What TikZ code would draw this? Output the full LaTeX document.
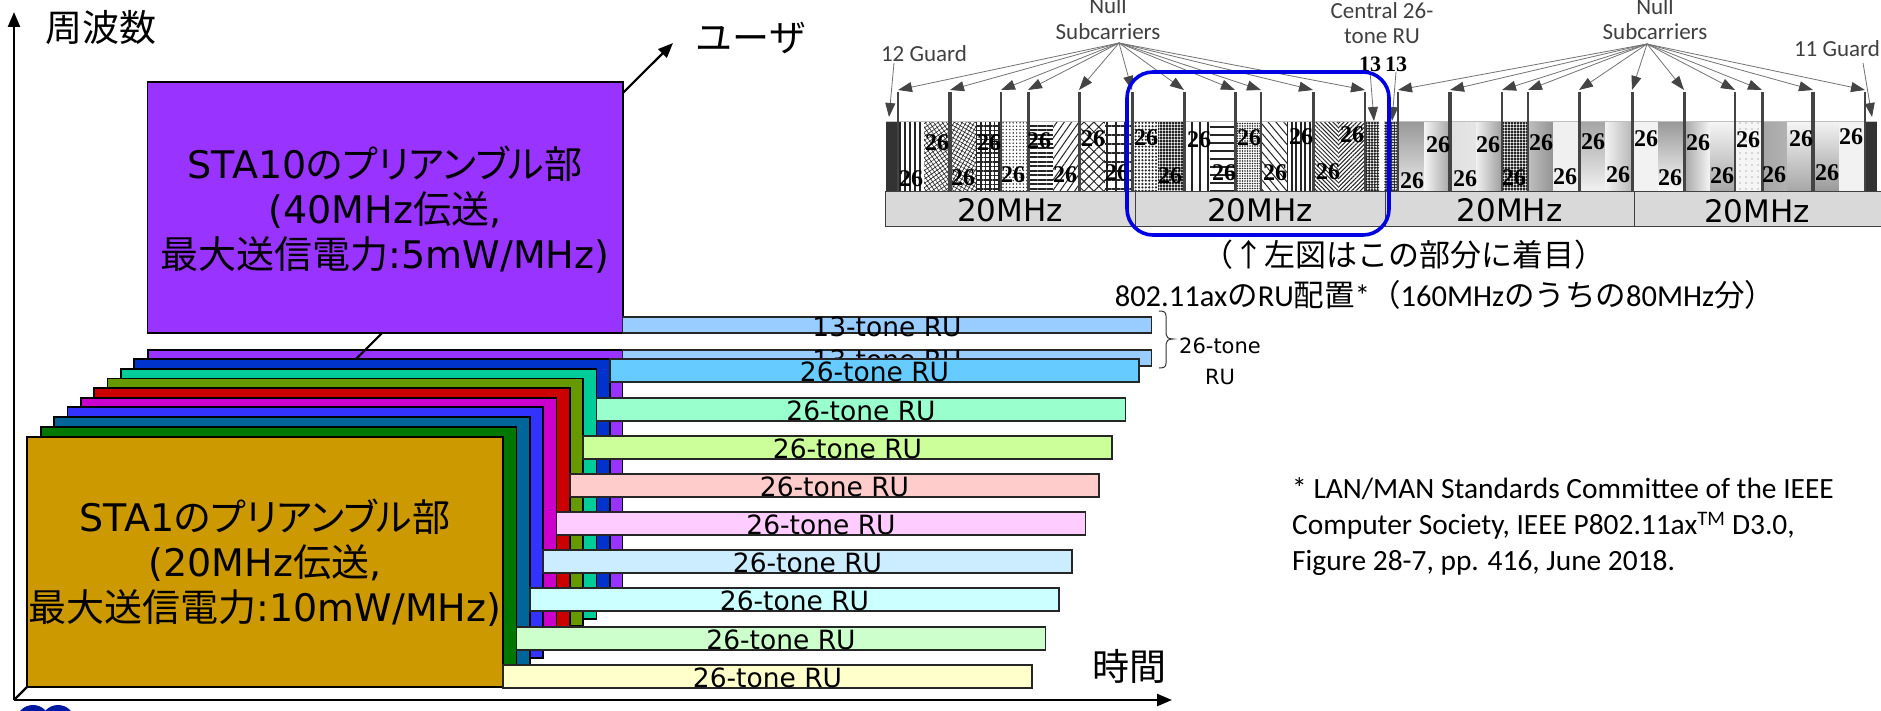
\documentclass[tikz,border=0pt]{standalone}
\usepackage{fontspec}
\setmainfont{DejaVu Sans}
\newfontfamily\jp{Noto Sans CJK JP}
\newfontfamily\jpp[RawFeature=+palt]{Noto Sans CJK JP}
\newfontfamily\carl{Carlito}
\newfontfamily\rs{Liberation Serif}
\usetikzlibrary{arrows.meta,patterns.meta}
\newcommand\jt[1]{{\jp #1}}
\newcommand\jk[1]{{\jpp #1}}
\newcommand\fsz[1]{\fontsize{#1}{#1}\selectfont}
\definecolor{gold}{HTML}{CC9900}
\definecolor{cA}{HTML}{007700}
\definecolor{cB}{HTML}{006699}
\definecolor{cC}{HTML}{3333FF}
\definecolor{cD}{HTML}{CC00CC}
\definecolor{cE}{HTML}{CC0000}
\definecolor{cF}{HTML}{669900}
\definecolor{cG}{HTML}{00CC99}
\definecolor{cH}{HTML}{0033CC}
\definecolor{cI}{HTML}{9933FF}
\definecolor{bA}{HTML}{FFFFCC}
\definecolor{bB}{HTML}{CCFFCC}
\definecolor{bC}{HTML}{CCFFFF}
\definecolor{bD}{HTML}{CCECFF}
\definecolor{bE}{HTML}{FFCCFF}
\definecolor{bF}{HTML}{FFCCCC}
\definecolor{bG}{HTML}{CCFF99}
\definecolor{bH}{HTML}{99FFCC}
\definecolor{bI}{HTML}{66CCFF}
\definecolor{bJ}{HTML}{99CCFF}
\definecolor{stemc}{HTML}{444444}
\definecolor{guardc}{HTML}{333333}
\definecolor{labc}{HTML}{404040}
\definecolor{barg}{HTML}{D9D9D9}
\tikzset{
  layerbox/.style={draw=black,line width=1.5pt,anchor=north west,inner sep=0pt,outer sep=0pt},
  rubar/.style={draw=black!85,line width=1.5pt,anchor=north west,inner sep=0pt,outer sep=0pt,minimum width=529pt},
  rutext/.style={font=\fsz{26.5},inner sep=0pt},
  mainlabel/.style={align=center,inner sep=0pt,font=\fontsize{38}{45}\selectfont},
  axislabel/.style={inner sep=0pt,font=\jp\fsz{37}},
  axisline/.style={line width=2.4pt,-{Triangle[length=15pt,width=12pt]}},
  nullarrow/.style={draw=black!55,line width=.8pt,-{Triangle[length=14pt,width=10pt,color=stemc]}},
  stemline/.style={draw=stemc,line width=#1},
  graylabel/.style={text=labc,align=center,inner sep=0pt,font=\carl\fontsize{23}{25.5}\selectfont},
  mhzbar/.style={draw=black!75,line width=1pt,fill=barg,anchor=north west,inner sep=0pt,outer sep=0pt,minimum height=35pt},
  mhztext/.style={font=\fsz{31},inner sep=0pt},
  numlab/.style={font=\rs\bfseries\fsz{24},inner sep=0pt},
  smallnum/.style={font=\rs\bfseries\fsz{22},inner sep=0pt}
}
\newcommand\patseg[3]{\fill[white] (#1,122) rectangle (#2,192);\path[pattern={#3},pattern color=black!85] (#1,122) rectangle (#2,192);}
\begin{document}
\begin{tikzpicture}[x=1pt,y=-1pt]
\useasboundingbox (0,0) rectangle (1881,711);
\clip (0,0) rectangle (1881,711);
\fill[white] (0,0) rectangle (1881,711);
% logo fragment
\fill[blue!60!black!90!cyan] (33,722) circle (17) (58,722) circle (17);
% axes
\coordinate (orig) at (14,700);
\coordinate (ftip) at (14,12);
\coordinate (ttip) at (1172,700);
\coordinate (utip) at (673,43);
\draw[axisline] (orig) -- (ftip);
\draw[axisline] (orig) -- (ttip);
\node[axislabel] (freq) at (101,28) {周波数};
\node[axislabel] (time) at (1129,666) {時間};
\node[axislabel] (user) at (751,38) {ユーザ};
% back layer, user axis, STA10
\node[layerbox,fill=cI,minimum width=474.5pt,minimum height=250pt] (lay10) at (148,350) {};
\draw[line width=2.2pt,-{Triangle[length=15pt,width=12pt]}] (orig) -- (utip);
\node[layerbox,fill=cI,minimum width=475.5pt,minimum height=251pt] (sta10) at (147.5,82) {};
\node[mainlabel] (sta10t) at (385,210) {STA10\jk{のプリアンブル部}\\(40MHz\jt{伝送},\\\jt{最大送信電力}:5mW/MHz)};
\node[rubar,fill=bJ,minimum height=16pt] (bar13a) at (622.5,317) {};
\node[rutext] at ([yshift=-1.5pt]bar13a.center) {13-tone RU};
\node[rubar,fill=bJ,minimum height=16pt] (bar13b) at (622.5,350) {};
\node[rutext] at ([yshift=-1.5pt]bar13b.center) {13-tone RU};
% layers with their bars, back to front
\foreach \i/\lx/\ty/\rx/\by/\lc/\bt/\bc in {
  9/134/359/610/610/cH/359/bI,
  8/121/369/596.5/619/cG/398/bH,
  7/107.5/378.5/583/626/cF/436/bG,
  6/94/388/570/639/cE/474/bF,
  5/81/398/556.5/648/cD/512/bE,
  4/67.5/407/543/658/cC/550/bD,
  3/54/417/530/668/cB/588/bC,
  2/41/427/516.5/677/cA/627/bB,
  1/27/437/503/687/gold/665/bA}{
  \pgfmathsetmacro\boxw{\rx-\lx}
  \pgfmathsetmacro\boxh{\by-\ty}
  \node[layerbox,fill=\lc,minimum width=\boxw pt,minimum height=\boxh pt] (lay\i) at (\lx,\ty) {};
  \node[rubar,fill=\bc,minimum height=23pt] (bar\i) at (\rx,\bt) {};
  \node[rutext] at ([yshift=-1.5pt]bar\i.center) {26-tone RU};
}
\node[mainlabel] (sta1t) at (265,563) {STA1\jk{のプリアンブル部}\\(20MHz\jt{伝送},\\\jt{最大送信電力}:10mW/MHz)};
% brace
\draw[line width=1pt,black!80] (1159,311) .. controls (1164,311) and (1166,312) .. (1166,316) -- (1166,334) .. controls (1166,337) and (1168,339) .. (1173,339) .. controls (1168,339) and (1166,341) .. (1166,344) -- (1166,363) .. controls (1166,367) and (1164,368) .. (1159,368);
\node[align=center,inner sep=0pt,font=\fontsize{21}{31}\selectfont] (tone26) at (1220,361) {26-tone\\RU};
% RU pattern band: left half
\fill[guardc] (886,122) rectangle (898,192);
\patseg{898}{924}{Lines[angle=90,distance=5pt,line width=1.5pt]}
\patseg{924}{950}{Hatch[angle=35,distance=3.5pt,line width=.6pt]}
\patseg{950}{976}{Hatch[angle=60,distance=3.5pt,line width=.6pt]}
\patseg{976}{1001}{Hatch[angle=0,distance=4.5pt,line width=1.5pt]}
\patseg{1001}{1028}{Dots[radius=.8pt,distance=3.4pt]}
\patseg{1028}{1053}{Lines[angle=0,distance=4.5pt,line width=2pt]}
\patseg{1053}{1079}{Lines[angle=55,distance=6pt,line width=1pt]}
\patseg{1079}{1105}{Hatch[angle=45,distance=7pt,line width=1pt]}
\patseg{1105}{1132}{Hatch[angle=0,distance=9pt,line width=1.2pt]}
\patseg{1132}{1158}{Dots[radius=1.2pt,distance=3.4pt]}
\patseg{1158}{1184}{Dots[radius=1.6pt,distance=3pt]}
\patseg{1184}{1210}{Lines[angle=90,distance=8pt,line width=1.5pt]}
\patseg{1210}{1235}{Lines[angle=0,distance=8pt,line width=1.3pt]}
\patseg{1235}{1261}{Dots[radius=.9pt,distance=2.5pt]}
\patseg{1261}{1287}{Lines[angle=-50,distance=6pt,line width=1pt]}
\patseg{1287}{1313}{Lines[angle=90,distance=4.5pt,line width=2pt]}
\patseg{1313}{1339}{Lines[angle=-45,distance=3pt,line width=1pt]}
\patseg{1339}{1365}{Lines[angle=45,distance=3pt,line width=1pt]}
\patseg{1365}{1379}{Dots[radius=1.5pt,distance=2.8pt]}
\patseg{1384}{1398}{Dots[radius=1.5pt,distance=2.8pt]}
% RU band: right half, shaded
\shade[top color=black!40,bottom color=black!8] (1398,122) rectangle (1424,192);
\shade[left color=black!4,right color=black!35] (1424,122) rectangle (1450,192);
\shade[left color=black!12,middle color=black!42,right color=black!10] (1450,122) rectangle (1476,192);
\shade[left color=black!6,right color=black!38] (1476,122) rectangle (1502,192);
\patseg{1502}{1528}{Dots[radius=1.6pt,distance=3pt]}
\shade[left color=black!25,right color=black!42] (1528,122) rectangle (1553,192);
\shade[top color=black!6,middle color=black!42,bottom color=black!6] (1553,122) rectangle (1579,192);
\shade[top color=black!35,bottom color=black!5] (1579,122) rectangle (1605,192);
\shade[left color=black!5,right color=black!28] (1605,122) rectangle (1632,192);
\shade[top color=black!5,middle color=black!35,bottom color=black!5] (1632,122) rectangle (1658,192);
\shade[top color=black!40,bottom color=black!1] (1658,122) rectangle (1684,192);
\shade[left color=black!35,right color=black!4] (1684,122) rectangle (1710,192);
\shade[top color=black!4,bottom color=black!35] (1710,122) rectangle (1735,192);
\fill[black!4] (1735,122) rectangle (1762,192);
\path[pattern={Dots[radius=.6pt,distance=6pt]},pattern color=black!55] (1735,122) rectangle (1762,192);
\shade[left color=black!35,middle color=black!5,right color=black!30] (1762,122) rectangle (1787,192);
\shade[top color=black!4,bottom color=black!35] (1787,122) rectangle (1813,192);
\shade[top color=black!5,bottom color=black!40] (1813,122) rectangle (1839,192);
\shade[top color=black!5,middle color=black!32,bottom color=black!5] (1839,122) rectangle (1865,192);
\fill[guardc] (1866,122) rectangle (1877,192);
\draw[black!25,line width=1pt] (886,122) -- (1379,122) (1384,122) -- (1877,122);
% 20 MHz bars
\node[mhzbar,minimum width=250pt] (m1) at (885,192) {};
\node[mhzbar,minimum width=250pt] (m2) at (1135,192) {};
\node[mhzbar,minimum width=249pt] (m3) at (1385,192) {};
\node[mhzbar,minimum width=250pt] (m4) at (1634,192) {};
\node[mhztext] at ([yshift=-1pt]m1.center) {20MHz};
\node[mhztext] at ([yshift=-1pt]m2.center) {20MHz};
\node[mhztext] at ([yshift=-1pt]m3.center) {20MHz};
\node[mhztext] at (1757,211) {20MHz};
% stems
\foreach \x/\w in {898/2.5,950/3.5,1001/2.5,1028/3,1079/3,1132/3,1184/3,1235/3,1261/2,1313/3,1365/2,
  1398/2.5,1450/3.5,1502/2.5,1528/2.5,1579/3,1632/3,1684/3,1735/2,1762/3,1813/3.5,1865/2.5}
  \draw[stemline=\w pt] (\x,92) -- (\x,192);
% labels and arrows
\node[graylabel] (nullL) at (1108,18.5) {Null\\Subcarriers};
\node[graylabel] (nullR) at (1655,19) {Null\\Subcarriers};
\node[graylabel] (central) at (1382,23) {Central 26-\\tone RU};
\node[graylabel] (g12) at (924,54) {12 Guard};
\node[graylabel] (g11) at (1837,49) {11 Guard};
\coordinate (apexL) at (1119,43);
\coordinate (apexR) at (1647,44);
\foreach \x in {898,950,1001,1028,1079,1132,1184,1235,1261,1313,1365}{
  \coordinate (tip) at (\x,90);
  \draw[nullarrow] (apexL) -- (tip);}
\foreach \x in {1398,1450,1502,1528,1579,1632,1684,1735,1762,1813,1865}{
  \coordinate (tip) at (\x,90);
  \draw[nullarrow] (apexR) -- (tip);}
\coordinate (gA) at (889,117);
\coordinate (gB) at (1872,117);
\draw[nullarrow] (894,63) -- (gA);
\draw[nullarrow] (1863,63) -- (gB);
\node[smallnum] (n13a) at (1370,64) {13};
\node[smallnum] (n13b) at (1396,64) {13};
\coordinate (cA) at (1374,121);
\coordinate (cB) at (1392,121);
\draw[nullarrow] (n13a.south) -- (cA);
\draw[nullarrow] (n13b.south) -- (cB);
% 26 labels
\foreach \x/\y in {911/179,937/143,963/178,989/143,1013/175,1039/141,1065/175,1093/139,1117/173,1146/138,1170/176,1199/140,1224/173,1249/138,1275/173,1301/137,1328/172,1352/135,
  1412/181,1438/145,1465/179,1488/145,1514/178,1541/143,1565/177,1593/142,1618/175,1646/139,1670/178,1698/143,1722/176,1748/140,1774/175,1801/139,1827/173,1851/137}
  \node[numlab] at (\x,\y) {26};
% highlight
\draw[draw=blue!90!black,line width=3.6pt,rounded corners=26pt] (1127,72) rectangle (1389,235);
% captions
\node[inner sep=0pt,font=\jp\fsz{31}] (cap1) at (1404,255) {（↑左図はこの部分に着目）};
\node[inner sep=0pt,font=\carl\fsz{30.5}] (cap2) at (1445,295) {802.11ax\jt{の}RU\jt{配置}*\jt{（}160MHz\jt{のうちの}80MHz\jt{分）}};
\node[anchor=north west,align=left,inner sep=0pt,font=\carl\fontsize{29.4}{36}\selectfont] (foot) at (1292,477) {* LAN/MAN Standards Committee of the IEEE\\Computer Society, IEEE P802.11ax\textsuperscript{TM} D3.0,\\Figure 28-7, pp. 416, June 2018.};
\end{tikzpicture}
\end{document}
